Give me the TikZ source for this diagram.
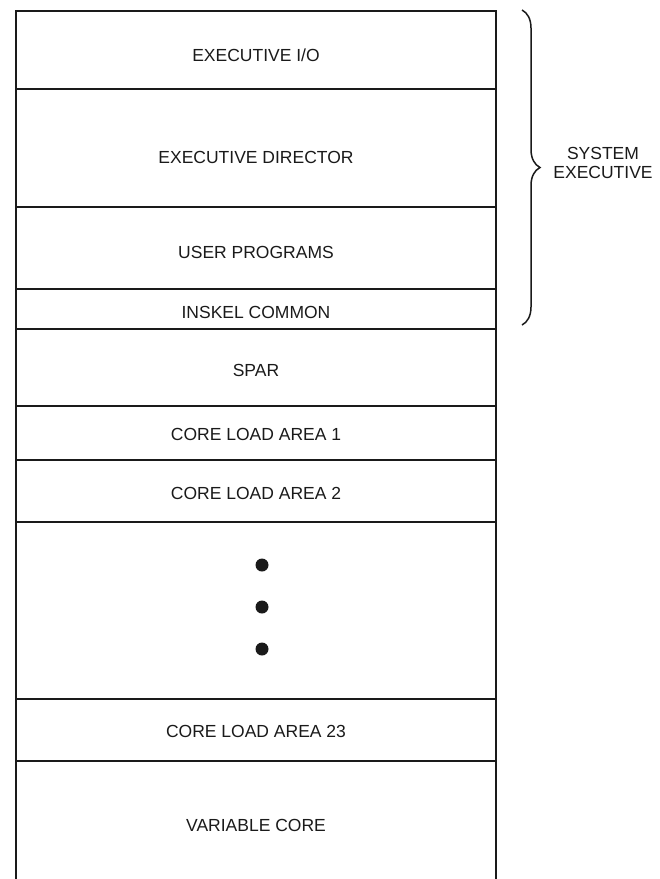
\documentclass[tikz,border=0pt]{standalone}
\usepackage{fontspec}
\setmainfont{Liberation Sans}
\usepackage{xcolor}
\usepackage{tikz}
\usetikzlibrary{decorations.pathreplacing}
\definecolor{ink}{HTML}{1A1A1A}
\tikzset{
  side/.style={draw=ink, line width=1.8pt},
  rule/.style={draw=ink, line width=1.6pt},
  heavy/.style={draw=ink, line width=2.6pt},
  lab/.style={text=ink, font=\fontsize{17.5}{18.5}\selectfont},
  dot/.style={circle, fill=ink, inner sep=0pt, minimum size=13pt},
  curly/.style={draw=ink, line width=1.5pt, decorate, decoration={brace, amplitude=18pt}},
}

\begin{document}
\begin{tikzpicture}[x=1pt,y=-1pt]
  \useasboundingbox (0,0) rectangle (660,879);
  \def\L{16}     % left side
  \def\R{496}    % right side
  \def\xm{256}   % label column

  % sides, open at the foot
  \draw[side] (\L,879) -- (\L,11) -- (\R,11) -- (\R,879);

  % row borders
  \foreach \y in {89,207,406,460,522,699,761}
    \draw[rule] (\L,\y) -- (\R,\y);
  \foreach \y in {289,329}
    \draw[heavy] (\L,\y) -- (\R,\y);

  \node[lab] (eio)     at (\xm,55)  {EXECUTIVE I/O};
  \node[lab] (edir)    at (\xm,157) {EXECUTIVE DIRECTOR};
  \node[lab] (uprog)   at (\xm,252) {USER PROGRAMS};
  \node[lab] (inskel)  at (\xm,312) {INSKEL COMMON};
  \node[lab] (spar)    at (\xm,370) {SPAR};
  \node[lab] (cla1)    at (\xm,434) {CORE LOAD AREA 1};
  \node[lab] (cla2)    at (\xm,493) {CORE LOAD AREA 2};
  \node[lab] (cla23)   at (\xm,731) {CORE LOAD AREA 23};
  \node[lab] (varcore) at (\xm,825) {VARIABLE CORE};

  \foreach \i/\y in {1/565,2/607,3/649}
    \node[dot] (d\i) at (262,\y) {};

  % brace over the executive rows
  \coordinate (bt) at (522,10);
  \coordinate (bb) at (522,325);
  \draw[curly] (bt) -- (bb);
  \node[lab, align=center] (sysx) at (603,163) {SYSTEM\\EXECUTIVE};
\end{tikzpicture}
\end{document}
